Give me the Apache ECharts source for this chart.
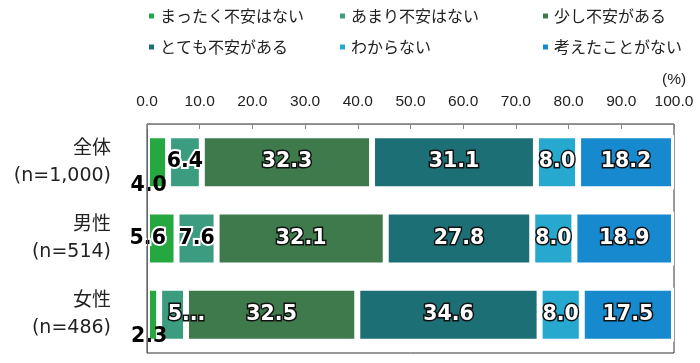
<!DOCTYPE html>
<html><head><meta charset="utf-8">
<script src="https://cdn.jsdelivr.net/npm/echarts@6/dist/echarts.min.js"></script>
<style>html,body{margin:0;padding:0;background:#fff}#c{width:700px;height:363px}</style>
</head><body><div id="c"></div>
<script>
// ---- data ----
const categories = ['全体', '男性', '女性'];
const sampleSizes = ['n=1,000', 'n=514', 'n=486'];
const seriesNames = ['まったく不安はない', 'あまり不安はない', '少し不安がある', 'とても不安がある', 'わからない', '考えたことがない'];
const notWorriedAtAll = [4.0, 5.6, 2.3];
const notVeryWorried = [6.4, 7.6, 5.1];
const somewhatWorried = [32.3, 32.1, 32.5];
const veryWorried = [31.1, 27.8, 34.6];
const dontKnow = [8.0, 8.0, 8.0];
const neverThought = [18.2, 18.9, 17.5];
const axisMin = 0, axisMax = 100, axisStep = 10;
const unitLabel = '(%)';

// ---- styling ----
const colors = ['#25a83f', '#3b9c80', '#3e7a4c', '#1d6f76', '#27a8cf', '#1689cf'];
const seriesValues = [notWorriedAtAll, notVeryWorried, somewhatWorried, veryWorried, dontKnow, neverThought];
const numFont = '"DejaVu Sans", "Noto Sans CJK JP", sans-serif';
const styleLight = { color: '#fff', textBorderColor: '#111', textBorderWidth: 3 };
const styleDark = { color: '#000', textBorderColor: '#fff', textBorderWidth: 4 };
const stylePlain = { color: '#000', textBorderWidth: 0 };
// per-label tweaks (position/style only)
const labelTweaks = {
  '0-0': { offset: [-9, 24], style: stylePlain },
  '0-1': { offset: [-14, 0], style: styleDark },
  '0-2': { offset: [-4, 22], style: stylePlain },
  '1-0': { style: styleDark },
  '1-1': { style: styleDark },
  '1-2': { offset: [14, 0], style: styleLight, text: '5...' }
};

const series = seriesValues.map((vals, si) => ({
  name: seriesNames[si],
  type: 'bar',
  stack: 'total',
  barWidth: 54,
  itemStyle: { color: colors[si], borderColor: '#fff', borderWidth: 3 },
  data: vals.map((v, di) => {
    const t = labelTweaks[si + '-' + di];
    const item = { value: v };
    if (t) {
      item.label = Object.assign({ offset: t.offset || [0, 0] }, t.style);
      if (t.text) item.label.formatter = () => t.text;
    }
    return item;
  }),
  label: Object.assign({
    show: true,
    position: 'inside',
    fontFamily: numFont,
    fontWeight: 'bold',
    fontSize: 20.5,
    formatter: p => p.value.toFixed(1)
  }, styleLight)
}));

const legendCols = [[0, 3], [1, 4], [2, 5]];
const legendLefts = [147, 338, 541];
const legends = legendCols.map((col, i) => ({
  orient: 'vertical',
  left: legendLefts[i],
  top: 7,
  padding: 0,
  itemGap: 13,
  icon: 'rect',
  itemWidth: 7,
  itemHeight: 7,
  data: col.map(k => seriesNames[k]),
  textStyle: { fontFamily: '"Noto Sans CJK JP", sans-serif', fontSize: 16, color: '#222', lineHeight: 18 }
}));

const chart = echarts.init(document.getElementById('c'), null, { renderer: 'canvas' });
chart.setOption({
  animation: false,
  backgroundColor: '#fff',
  title: {
    text: unitLabel, left: 662, top: 72, padding: 0,
    textStyle: { fontFamily: '"Liberation Sans", Arial, sans-serif', fontSize: 15.5, fontWeight: 'normal', color: '#222' }
  },
  legend: legends,
  grid: {
    left: 147, right: 26, top: 124, bottom: 10,
    containLabel: false, outerBoundsMode: 'none',
    show: true, borderColor: '#333', borderWidth: 1, backgroundColor: 'transparent'
  },
  xAxis: {
    type: 'value', position: 'top', min: axisMin, max: axisMax, interval: axisStep, z: 5,
    axisLine: { show: true, lineStyle: { color: '#888' } },
    axisTick: { show: true, inside: true, length: 5, lineStyle: { color: '#888' } },
    splitLine: { show: false },
    axisLabel: {
      margin: 14, fontFamily: '"Liberation Sans", Arial, sans-serif', fontSize: 15.5, color: '#222',
      formatter: v => v.toFixed(1)
    }
  },
  yAxis: {
    type: 'category', inverse: true, z: 5,
    data: categories.map((c, i) => c + '\n(' + sampleSizes[i] + ')'),
    axisLine: { show: true, lineStyle: { color: '#666' } },
    axisTick: { show: false },
    axisLabel: {
      margin: 36, align: 'right', fontFamily: numFont, fontSize: 19, lineHeight: 27,
      color: '#222', padding: [8, 0, 0, 0]
    }
  },
  series: series
});
</script>
</body></html>
